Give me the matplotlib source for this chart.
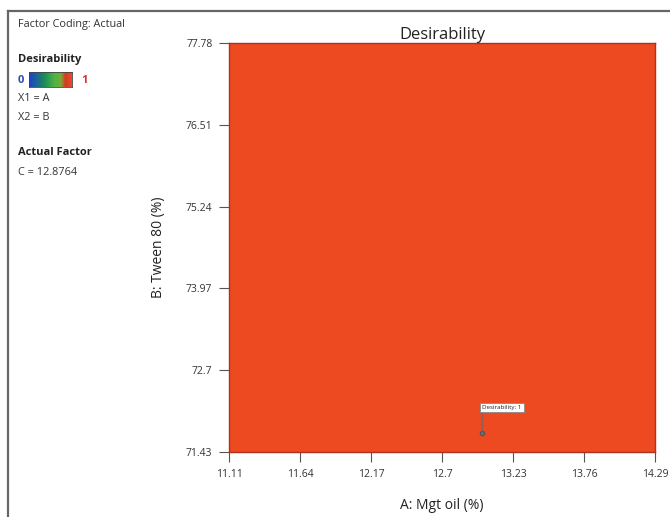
import matplotlib.pyplot as plt
from matplotlib.colors import LinearSegmentedColormap
import numpy as np

plt.rcParams['font.family'] = ['Open Sans', 'DejaVu Sans']

# Achsen / Daten
x_ticks = [11.11, 11.64, 12.17, 12.7, 13.23, 13.76, 14.29]
y_ticks = [71.43, 72.7, 73.97, 75.24, 76.51, 77.78]
a_grid = [11.11, 14.29]
b_grid = [71.43, 77.78]
desir = [[1.0, 1.0], [1.0, 1.0]]   # Desirability ueberall 1
opt_a, opt_b, opt_d = 13.0, 71.72, 1

cmap = LinearSegmentedColormap.from_list(
    "desir", [(0.0, "#1a3fd0"), (0.35, "#1c8a5a"), (0.6, "#4fb544"),
              (0.75, "#7aa83a"), (0.85, "#d43a22"), (1.0, "#ee4a22")])

fig = plt.figure(figsize=(6.7, 5.17), dpi=100)

# Rahmen links/oben
fig.add_artist(plt.Line2D([0.012, 0.012], [0.0, 0.978], color="#666666", lw=1.6))
fig.add_artist(plt.Line2D([0.012, 1.0], [0.978, 0.978], color="#666666", lw=1.6))

ax = fig.add_axes([0.3418, 0.1257, 0.6358, 0.7911])
ax.pcolormesh(a_grid, b_grid, np.array(desir), cmap=cmap, vmin=0, vmax=1,
              shading="gouraud")
ax.set_xlim(x_ticks[0], x_ticks[-1])
ax.set_ylim(y_ticks[0], y_ticks[-1])
ax.set_xticks(x_ticks)
ax.set_xticklabels([str(v) for v in x_ticks])
ax.set_yticks(y_ticks)
ax.set_yticklabels([str(v) for v in y_ticks])
ax.tick_params(length=7, width=0.8, color="#555555", labelsize=7.5,
               labelcolor="#333333", pad=5)
for s in ax.spines.values():
    s.set_color("#b03020")
    s.set_linewidth(1.0)

ax.set_title("Desirability", fontsize=12, color="#222222", pad=3)
ax.set_xlabel("A: Mgt oil (%)", fontsize=10, color="#222222", labelpad=13)
ax.set_ylabel("B: Tween 80 (%)", fontsize=10, color="#222222", labelpad=14)

# Optimum-Flagge
ax.plot(opt_a, opt_b, "o", ms=3, color="#777777", mec="#555555")
ax.annotate("Desirability: %d" % opt_d, xy=(opt_a, opt_b), xytext=(0, 17),
            textcoords="offset points", fontsize=4.5, color="#222222",
            ha="left", va="bottom",
            bbox=dict(boxstyle="square,pad=0.35", fc="white", ec="#888888", lw=0.6),
            arrowprops=dict(arrowstyle="-", color="#666666", lw=0.7,
                            shrinkA=0, shrinkB=0, relpos=(0, 0)))

# Legende links
fig.text(0.027, 0.952, "Factor Coding: Actual", fontsize=7.8, color="#333333", va="center")
fig.text(0.027, 0.884, "Desirability", fontsize=8, fontweight="bold", color="#222222", va="center")
fig.text(0.027, 0.845, "0", fontsize=8, fontweight="bold", color="#2a4bb0", va="center")
fig.text(0.121, 0.845, "1", fontsize=8, fontweight="bold", color="#e0302a", va="center")
cax = fig.add_axes([0.044, 0.832, 0.064, 0.029])
cax.imshow(np.linspace(0, 1, 100)[None, :], aspect="auto", cmap=cmap)
cax.set_xticks([])
cax.set_yticks([])
for s in cax.spines.values():
    s.set_color("#444444")
    s.set_linewidth(0.6)
fig.text(0.027, 0.809, "X1 = A", fontsize=7.8, color="#333333", va="center")
fig.text(0.027, 0.773, "X2 = B", fontsize=7.8, color="#333333", va="center")
fig.text(0.027, 0.705, "Actual Factor", fontsize=8, fontweight="bold", color="#222222", va="center")
fig.text(0.027, 0.667, "C = 12.8764", fontsize=7.8, color="#333333", va="center")

fig.savefig("out.png", dpi=100)
